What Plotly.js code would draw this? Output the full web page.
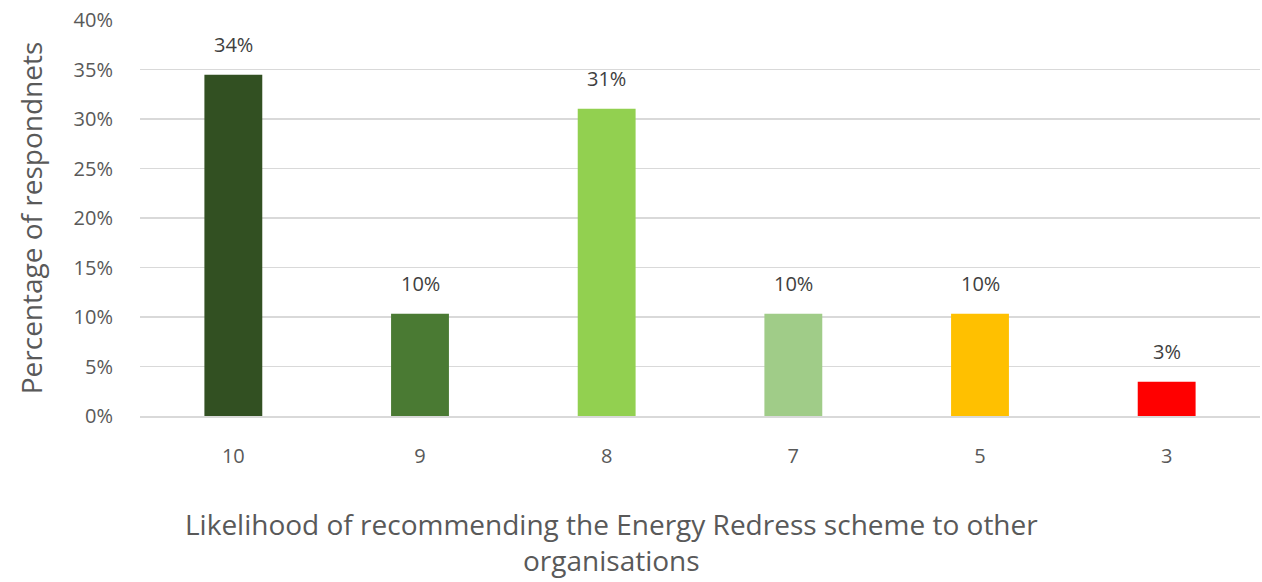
<!DOCTYPE html>
<html>
<head>
<meta charset="utf-8">
<script src="https://cdn.plot.ly/plotly-3.0.1.min.js"></script>
<style>html,body{margin:0;padding:0;background:#fff;}#chart{width:1262px;height:582px;}</style>
</head>
<body>
<div id="chart"></div>
<script>
const categories = ["10", "9", "8", "7", "5", "3"];
const shares = [0.3448, 0.1034, 0.3103, 0.1034, 0.1034, 0.0345];
const barColors = ["#325022", "#4a7a33", "#92d050", "#a0cc88", "#ffc000", "#ff0000"];
const yTickVals = [0, 0.05, 0.10, 0.15, 0.20, 0.25, 0.30, 0.35, 0.40];
const yTickText = ["0%", "5%", "10%", "15%", "20%", "25%", "30%", "35%", "40%"];
const xTitleLines = ["Likelihood of recommending the Energy Redress scheme to other", "organisations"];

const FONT = "'Open Sans', Lato, sans-serif";
const TXT = "#595959";

const trace = {
  type: "bar",
  x: categories,
  y: shares,
  marker: {color: barColors},
  hoverinfo: "x+y"
};

const annotations = categories.map((c, i) => ({
  x: i, y: shares[i], xref: "x", yref: "y",
  text: Math.round(shares[i] * 100) + "%",
  showarrow: false, yanchor: "bottom", yshift: 15,
  font: {family: FONT, size: 20, color: "#404040"}
}));
xTitleLines.forEach((line, k) => {
  annotations.push({
    xref: "paper", yref: "paper", x: 0.421, y: 0, yanchor: "middle", yshift: -108 - 36 * k,
    text: line, showarrow: false, align: "center",
    font: {family: FONT, size: 28, color: TXT}
  });
});

const layout = {
  width: 1262, height: 582,
  margin: {l: 140, r: 2, t: 20, b: 166},
  paper_bgcolor: "#fff", plot_bgcolor: "#fff",
  font: {family: FONT, color: TXT},
  bargap: 0.69,
  showlegend: false,
  xaxis: {
    type: "category",
    range: [-0.5, 5.5], autorange: false,
    tickfont: {family: FONT, size: 20, color: TXT},
    ticks: "", showgrid: false,
    showline: true, linecolor: "#d9d9d9", linewidth: 2,
    ticklabelstandoff: 21
  },
  yaxis: {
    range: [0, 0.40], autorange: false,
    tickvals: yTickVals, ticktext: yTickText,
    tickfont: {family: FONT, size: 20, color: TXT},
    showgrid: true, gridcolor: "#d9d9d9", gridwidth: 1.5,
    zeroline: false, ticks: "",
    ticklabelstandoff: 26,
    title: {text: "Percentage of respondnets", font: {family: FONT, size: 28, color: TXT}, standoff: 22}
  },
  annotations: annotations
};

Plotly.newPlot("chart", [trace], layout, {displayModeBar: false, staticPlot: true});
</script>
</body>
</html>
